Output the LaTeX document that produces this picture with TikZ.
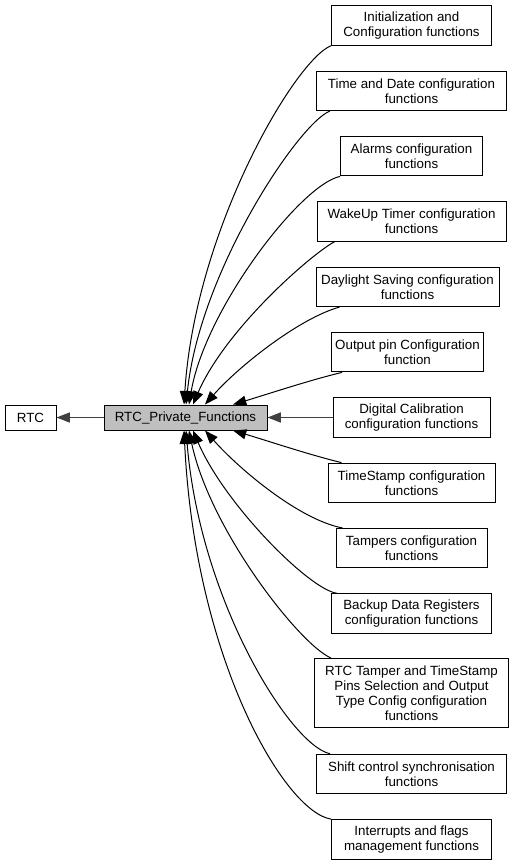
\documentclass[tikz,border=0pt]{standalone}
\usepackage{fontspec}
\setmainfont{Liberation Sans}
\usetikzlibrary{arrows.meta, positioning}
\usepackage{xcolor}
\definecolor{groupgray}{HTML}{BFBFBF}
\definecolor{edgegray}{HTML}{404040}

\begin{document}
\begin{tikzpicture}[
    x=0.75pt, y=-0.75pt,
    node distance=49pt,
    box/.style={rectangle, draw, fill=white, align=center, inner sep=2pt, minimum height=29.6pt, line width=0.75pt, font=\fontsize{10}{11.25}\selectfont},
    arrow/.style={-{Triangle[length=10pt, width=7.5pt]}, line width=0.75pt},
    grayarrow/.style={arrow, draw=edgegray, line width=1.1pt}
]
\useasboundingbox (0,0) rectangle (515,865);

\node (B) [box, fill=groupgray, minimum width=122.25pt, minimum height=18.75pt] at (185.5,417.5) {RTC\_Private\_Functions};
\node (A) [box, node distance=116.25pt, left of=B, minimum width=38.25pt, minimum height=18.75pt] {RTC};
\node (I) [box, node distance=169.5pt, right of=B, minimum width=117.75pt] {Digital Calibration\\configuration functions};
\node (H) [box, above of=I, xshift=-3pt, minimum width=114pt] {Output pin Configuration\\function};
\node (G) [box, above of=H, minimum width=137.25pt] {Daylight Saving configuration\\functions};
\node (F) [box, above of=G, xshift=3pt, minimum width=141.75pt] {WakeUp Timer configuration\\functions};
\node (E) [box, above of=F, minimum width=106.5pt] {Alarms configuration\\functions};
\node (D) [box, above of=E, minimum width=142.5pt] {Time and Date configuration\\functions};
\node (C) [box, above of=D, minimum width=120pt] {Initialization and\\Configuration functions};
\node (J) [box, below of=I, minimum width=125.25pt] {TimeStamp configuration\\functions};
\node (K) [box, below of=J, minimum width=113.25pt] {Tampers configuration\\functions};
\node (L) [box, below of=K, minimum width=120pt] {Backup Data Registers\\configuration functions};
\node (M) [box, node distance=59.6pt, below of=L, minimum width=145.5pt, minimum height=51.75pt] {RTC Tamper and TimeStamp\\Pins Selection and Output\\Type Config configuration\\functions};
\node (N) [box, node distance=60.75pt, below of=M, minimum width=142.5pt] {Shift control synchronisation\\functions};
\node (O) [box, below of=N, minimum width=120pt] {Interrupts and flags\\management functions};

\draw [grayarrow] (B) -- (A);
\draw [grayarrow] (I) -- (B);

\draw [arrow] (C.south west) .. controls (295,60) and (195,230) .. ([xshift=-1.1pt]B.north);
\draw [arrow] ([xshift=10.5pt]D.south west) .. controls (300,122) and (200,270) .. ([xshift=0.4pt]B.north);
\draw [arrow] (E.south west) .. controls (300,185) and (205,310) .. ([xshift=2.6pt]B.north);
\draw [arrow] ([xshift=13.5pt]F.south west) .. controls (310,255) and (225,330) .. ([xshift=5.6pt]B.north);
\draw [arrow] ([xshift=18pt]G.south west) .. controls (300,318) and (240,365) .. ([xshift=14.6pt]B.north);
\draw [arrow] ([xshift=8.25pt]H.south west) .. controls (310,380) and (265,395) .. ([xshift=35.6pt]B.north);

\draw [arrow] ([xshift=10.5pt]J.north west) .. controls (310,455) and (265,440) .. ([xshift=35.6pt]B.south);
\draw [arrow] ([xshift=5.25pt]K.north west) .. controls (300,520) and (240,470) .. ([xshift=14.6pt]B.south);
\draw [arrow] ([xshift=4.5pt]L.north west) .. controls (310,590) and (225,505) .. ([xshift=5.6pt]B.south);
\draw [arrow] ([xshift=12.75pt]M.north west) .. controls (300,645) and (210,530) .. ([xshift=2.6pt]B.south);
\draw [arrow] ([xshift=10.5pt]N.north west) .. controls (290,745) and (200,600) .. ([xshift=0.4pt]B.south);
\draw [arrow] (O.north west) .. controls (285,812) and (195,660) .. ([xshift=-1.1pt]B.south);

\end{tikzpicture}
\end{document}
